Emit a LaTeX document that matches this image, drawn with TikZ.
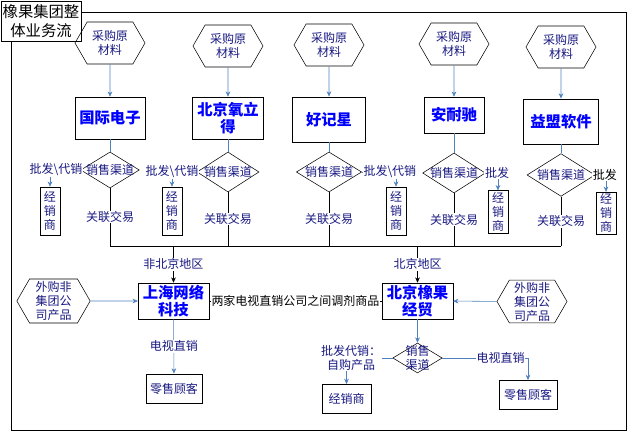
\documentclass[tikz,border=0pt]{standalone}
\usepackage{fontspec}
\setmainfont{Noto Sans CJK SC}
\usetikzlibrary{shapes.geometric,shapes.symbols,arrows.meta}
\definecolor{txtnavy}{RGB}{25,25,130}
\definecolor{firmblue}{RGB}{0,0,255}
\definecolor{linkblue}{RGB}{79,129,189}
\tikzset{
	lbltext/.style={text=txtnavy, font=\fontsize{9}{10.5}\selectfont, align=center},
	lbl/.style={lbltext, fill=white, inner sep=0.5pt},
	hexbox/.style={signal, signal to=west and east, signal pointer angle=120, draw, lbltext, inner sep=1pt, minimum width=52.5pt, minimum height=31.5pt},
	firm/.style={draw, align=center, text=firmblue, font=\fontsize{11.5}{13}\selectfont\bfseries, inner sep=1pt},
	chan/.style={diamond, draw, inner sep=0pt, label={[lbltext]center:#1}},
	chan/.default={销售渠道},
	dealer/.style={draw, lbltext, inner sep=1pt, minimum width=15pt},
	endbox/.style={draw, lbltext, inner sep=1pt, minimum height=22pt},
	bluearr/.style={draw=linkblue, -{Stealth[length=4pt,width=3.5pt]}},
	blackarr/.style={-{Stealth[length=4pt,width=3.5pt]}}
}
\begin{document}
\begin{tikzpicture}[x=0.75pt, y=-0.75pt]
		\useasboundingbox (0,0) rectangle (637,434);
		
		% Frame and title
		\draw (11,12) rectangle (626,430);
		\node[draw, fill=white, align=center, inner sep=1pt, minimum width=60pt, minimum height=30pt, font=\fontsize{11.5}{14}\selectfont] (title) at (41,21) {橡果集团整\\体业务流};
		
		% Raw material purchase
		\node[hexbox] (h1) at (110,43) {采购原\\材料};
		\node[hexbox] (h2) at (228,46) {采购原\\材料};
		\node[hexbox] (h3) at (329,45) {采购原\\材料};
		\node[hexbox] (h4) at (454,44) {采购原\\材料};
		\node[hexbox] (h5) at (561,47) {采购原\\材料};
		
		% Group companies
		\node[firm, minimum width=52.5pt, minimum height=31.5pt] (c1) at (110,118) {国际电子};
		\node[firm, minimum width=53pt, minimum height=31.5pt] (c2) at (228,118) {北京氧立\\得};
		\node[firm, minimum width=55pt, minimum height=34pt] (c3) at (329,119.5) {好记星};
		\node[firm, minimum width=45pt, minimum height=27pt] (c4) at (454,115) {安耐驰};
		\node[firm, minimum width=56pt, minimum height=34pt] (c5) at (561,121.5) {益盟软件};
		
		% Sales channels
		\node[chan, minimum width=44pt, minimum height=27pt] (d1) at (110,170) {};
		\node[chan, minimum width=46.5pt, minimum height=30pt] (d2) at (228,172) {};
		\node[chan, minimum width=49pt, minimum height=30pt] (d3) at (329,172) {};
		\node[chan, minimum width=47pt, minimum height=30pt] (d4) at (454,173) {};
		\node[chan, minimum width=51pt, minimum height=32pt] (d5) at (561,175) {};
		
		% Dealers
		\node[dealer, minimum height=36pt] (e1) at (50,211) {经\\销\\商};
		\node[dealer, minimum height=36pt] (e2) at (172,211) {经\\销\\商};
		\node[dealer, minimum height=36pt] (e3) at (396,211) {经\\销\\商};
		\node[dealer, minimum height=32pt] (e4) at (498,212) {经\\销\\商};
		\node[dealer, minimum height=31pt] (e5) at (606,213) {经\\销\\商};
		
		% Purchase and channel links
		\draw[bluearr] (h1) -- (c1);
		\draw[bluearr] (h2) -- (c2);
		\draw[bluearr] (h3) -- (c3);
		\draw[bluearr] (h4) -- (c4);
		\draw[bluearr] (h5) -- (c5);
		\draw[linkblue] (c1) -- (d1);
		\draw[linkblue] (c2) -- (d2);
		\draw[linkblue] (c3) -- (d3);
		\draw[linkblue] (c4) -- (d4);
		\draw[linkblue] (c5) -- (d5);
		
		\draw[bluearr] (d1.west) -| node[lbl, pos=0.4] {批发\textbackslash 代销} (e1.north);
		\draw[bluearr] (d2.west) -| node[lbl, pos=0.5] {批发\textbackslash 代销} (e2.north);
		\draw[bluearr] (d3.east) -| node[lbl, pos=0.41] {批发\textbackslash 代销} (e3.north);
		\draw[bluearr] (d4.east) -| node[lbl, pos=0.46] {批发} (e4.north);
		\draw[bluearr] (d5.east) -| node[lbl, pos=0.45, text=black] {批发} (e5.north);
		
		% Related-party trade bus
		\coordinate (busL) at (110,246);
		\coordinate (busR) at (561,246);
		\draw (d1.south) -- node[lbl] {关联交易} (d1.south |- busL);
		\draw (d2.south) -- node[lbl] {关联交易} (d2.south |- busL);
		\draw (d3.south) -- node[lbl] {关联交易} (d3.south |- busL);
		\draw (d4.south) -- node[lbl] {关联交易} (d4.south |- busL);
		\draw (d5.south) -- node[lbl] {关联交易} (d5.south |- busL);
		\draw (busL) -- (busR);
		
		% TV direct sales companies
		\node[firm, minimum width=53pt, minimum height=27pt] (sh) at (173.5,301) {上海网络\\科技};
		\node[firm, minimum width=53pt, minimum height=27pt] (bj) at (417.5,301) {北京橡果\\经贸};
		\node[hexbox, minimum width=55pt, minimum height=33pt] (o1) at (53.5,301) {外购非\\集团公\\司产品};
		\node[hexbox, minimum width=52.5pt, minimum height=32pt] (o2) at (532,301.5) {外购非\\集团公\\司产品};
		
		\draw[blackarr] (sh.north |- busL) -- node[lbl] {非北京地区} (sh);
		\draw[blackarr] (bj.north |- busL) -- node[lbl] {北京地区} (bj);
		\draw[bluearr] (o1) -- (sh);
		\draw[bluearr] (o2) -- (bj);
		\draw (sh) -- node[lbl, text=black] {两家电视直销公司之间调剂商品} (bj);
		
		% Retail side
		\node[endbox, minimum width=42pt] (rc1) at (174,388.5) {零售顾客};
		\draw[bluearr] (sh) -- node[lbl] {电视直销} (rc1);
		
		\node[chan={销售\\渠道}, minimum width=37pt, minimum height=22.5pt] (dm) at (417.5,358) {};
		\node[endbox, minimum width=37pt] (dl) at (346.5,399) {经销商};
		\node[endbox, minimum width=43.5pt] (rc2) at (528,395) {零售顾客};
		\draw[bluearr] (bj) -- (dm);
		\draw[bluearr] (dm.west) -| node[lbl, pos=0.45] {批发代销：\\自购产品} (dl.north);
		\draw[bluearr] (dm.east) -| node[lbl, pos=0.34] {电视直销} (rc2.north);
	\end{tikzpicture}
\end{document}
